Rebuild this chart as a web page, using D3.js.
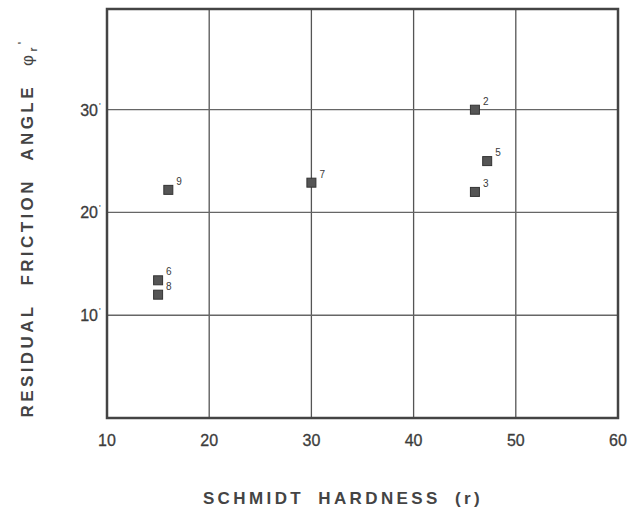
<!DOCTYPE html>
<html>
<head>
<meta charset="utf-8">
<script src="https://cdn.jsdelivr.net/npm/d3@7"></script>
<style>
  body { margin: 0; background: #fff; }
  text { font-family: "Liberation Sans", "DejaVu Sans", sans-serif; fill: #3a3a3a; }
</style>
</head>
<body>
<svg id="chart" width="628" height="515"></svg>
<script>
// sample numbers, Schmidt hardness (r), residual friction angle (deg)
var labels = ["2", "5", "3", "9", "7", "6", "8"];
var hardness = [46, 47.2, 46, 16, 30, 15, 15];
var friction = [30, 25, 22, 22.2, 22.9, 13.4, 12];
var xTicks = [10, 20, 30, 40, 50, 60];
var yTicks = [10, 20, 30];

var svg = d3.select("#chart");
var pLeft = 107, pRight = 618, pTop = 9, pBottom = 418;

var x = d3.scaleLinear().domain([10, 60]).range([pLeft, pRight]);
var y = d3.scaleLinear().domain([0, 39.8]).range([pBottom, pTop]);

// grid
var grid = svg.append("g").attr("class", "grid");
grid.selectAll("line.vx")
    .data(xTicks.slice(1, -1))
    .enter().append("line")
    .attr("x1", function(d) { return x(d); })
    .attr("x2", function(d) { return x(d); })
    .attr("y1", pTop).attr("y2", pBottom)
    .style("stroke", "#555").style("stroke-width", 1.3);
grid.selectAll("line.hy")
    .data(yTicks)
    .enter().append("line")
    .attr("x1", pLeft).attr("x2", pRight)
    .attr("y1", function(d) { return y(d); })
    .attr("y2", function(d) { return y(d); })
    .style("stroke", "#666").style("stroke-width", 1.3);

// frame
svg.append("rect")
    .attr("x", pLeft).attr("y", pTop)
    .attr("width", pRight - pLeft).attr("height", pBottom - pTop)
    .style("fill", "none").style("stroke", "#444").style("stroke-width", 2.5);

// x tick labels
svg.append("g").selectAll("text")
    .data(xTicks)
    .enter().append("text")
    .attr("x", function(d) { return x(d); })
    .attr("y", 446)
    .attr("text-anchor", "middle")
    .style("font-size", "16px")
    .style("fill", "#3c3c3c")
    .style("stroke", "#3c3c3c").style("stroke-width", 0.3)
    .text(function(d) { return d; });

// y tick labels with degree mark
svg.append("g").selectAll("text")
    .data(yTicks)
    .enter().append("text")
    .attr("x", 98)
    .attr("y", function(d) { return y(d) + 6; })
    .attr("text-anchor", "end")
    .style("font-size", "16px")
    .style("fill", "#3c3c3c")
    .style("stroke", "#3c3c3c").style("stroke-width", 0.3)
    .text(function(d) { return d; });
svg.append("g").selectAll("text")
    .data(yTicks)
    .enter().append("text")
    .attr("x", 99)
    .attr("y", function(d) { return y(d) - 1; })
    .style("font-size", "9px")
    .text("'");

// points
var pts = labels.map(function(l, i) { return {label: l, x: hardness[i], y: friction[i]}; });
var s = 9;
svg.append("g").selectAll("rect")
    .data(pts)
    .enter().append("rect")
    .attr("x", function(d) { return x(d.x) - s / 2; })
    .attr("y", function(d) { return y(d.y) - s / 2; })
    .attr("width", s).attr("height", s)
    .style("fill", "#555").style("stroke", "#333").style("stroke-width", 1);
svg.append("g").selectAll("text")
    .data(pts)
    .enter().append("text")
    .attr("x", function(d) { return x(d.x) + 8; })
    .attr("y", function(d) { return y(d.y) - 5; })
    .style("font-size", "10px")
    .text(function(d) { return d.label; });

// axis titles
svg.append("text")
    .attr("x", 343).attr("y", 504)
    .attr("text-anchor", "middle")
    .style("font-size", "17px").style("font-weight", "bold")
    .style("letter-spacing", "3.4px").style("word-spacing", "6px")
    .style("fill", "#444")
    .text("SCHMIDT HARDNESS (r)");

var yt = svg.append("text")
    .attr("transform", "translate(33,228) rotate(-90)")
    .attr("text-anchor", "middle")
    .style("font-size", "17px").style("font-weight", "bold")
    .style("letter-spacing", "3.4px").style("word-spacing", "10px")
    .style("fill", "#444");
yt.append("tspan").text("RESIDUAL FRICTION ANGLE ");
yt.append("tspan").style("font-weight", "normal").text("\u03c6");
yt.append("tspan").attr("dy", 4).style("font-size", "10px").text("r");
yt.append("tspan").attr("dy", -11).style("font-size", "10px").text("'");
</script>
</body>
</html>
